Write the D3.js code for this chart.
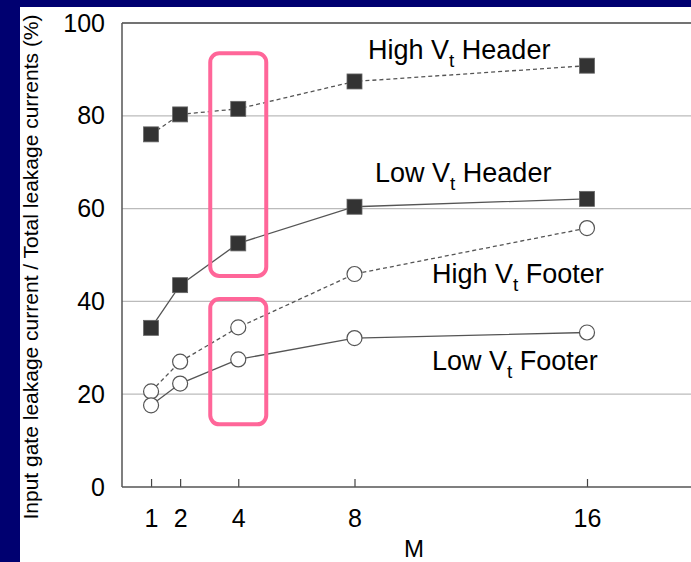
<!DOCTYPE html>
<html>
<head>
<meta charset="utf-8">
<script src="https://cdn.jsdelivr.net/npm/d3@7"></script>
<style>
  body { margin: 0; background: #000070; }
  svg { display: block; }
</style>
</head>
<body>
<div id="chart"></div>
<script>
// data
var mValues = [1, 2, 4, 8, 16];
var highVtHeader = [76, 80.3, 81.5, 87.4, 90.8];
var lowVtHeader = [34.3, 43.5, 52.5, 60.4, 62.1];
var highVtFooter = [20.6, 27, 34.4, 45.9, 55.8];
var lowVtFooter = [17.6, 22.3, 27.5, 32.1, 33.3];
var yTicks = [0, 20, 40, 60, 80, 100];
// highlighted region around M = 4: [x, yLow, yHigh]
var highlights = [[4, 45.5, 93.5], [4, 13.5, 40.5]];

const width = 691;
const height = 562;
const fontFam = "'Liberation Sans', Arial, Helvetica, sans-serif";

var svg = d3.select("#chart").append("svg")
	.attr("width", width)
	.attr("height", height);

// white slide panel
svg.append("rect")
	.attr("x", 20).attr("y", 7)
	.attr("width", width - 20).attr("height", height - 7)
	.attr("fill", "#fff");

var x = d3.scaleLinear().domain([0, 16]).range([122, 587]);
var y = d3.scaleLinear().domain([0, 100]).range([487, 23]);

// grid lines
svg.append("g").selectAll("line")
	.data(yTicks.filter(d => d > 0 && d < 100))
	.join("line")
	.attr("x1", x(0)).attr("x2", width)
	.attr("y1", d => y(d)).attr("y2", d => y(d))
	.attr("stroke", "#bbb").attr("stroke-width", 1.3);

// frame: top, left, bottom
svg.append("line")
	.attr("x1", x(0)).attr("x2", width)
	.attr("y1", y(100)).attr("y2", y(100))
	.attr("stroke", "#444").attr("stroke-width", 1.6);
svg.append("line")
	.attr("x1", x(0)).attr("x2", x(0))
	.attr("y1", y(100)).attr("y2", y(0))
	.attr("stroke", "#555").attr("stroke-width", 1.5);

var xAxis = svg.append("g")
	.attr("transform", `translate(0,${y(0)})`)
	.call(d3.axisBottom(x).tickValues(mValues).tickSizeInner(-8).tickSizeOuter(0).tickPadding(22));
xAxis.select(".domain").remove();
xAxis.append("line")
	.attr("x1", x(0)).attr("x2", width)
	.attr("stroke", "#555").attr("stroke-width", 1.5);
xAxis.selectAll(".tick line").attr("stroke", "#444").attr("stroke-width", 1.2);
xAxis.selectAll("text")
	.attr("fill", "#000")
	.style("font", `25px ${fontFam}`);

var yAxis = svg.append("g")
	.attr("transform", `translate(${x(0)},0)`)
	.call(d3.axisLeft(y).tickValues(yTicks).tickSize(0).tickPadding(17));
yAxis.select(".domain").remove();
yAxis.selectAll("text")
	.attr("fill", "#000")
	.style("font", `25px ${fontFam}`);

// axis titles
svg.append("text")
	.attr("transform", `translate(38,267) rotate(-90)`)
	.attr("text-anchor", "middle")
	.attr("fill", "#000")
	.style("font", `21px ${fontFam}`)
	.text("Input gate leakage current / Total leakage currents (%)");

svg.append("text")
	.attr("x", 414).attr("y", 557)
	.attr("text-anchor", "middle")
	.attr("fill", "#000")
	.style("font", `24px ${fontFam}`)
	.text("M");

// series
var series = [
	{ name: "High", part: "Header", values: highVtHeader, dashed: true, square: true, lx: 368, ly: 59 },
	{ name: "Low", part: "Header", values: lowVtHeader, dashed: false, square: true, lx: 375, ly: 182 },
	{ name: "High", part: "Footer", values: highVtFooter, dashed: true, square: false, lx: 432, ly: 283 },
	{ name: "Low", part: "Footer", values: lowVtFooter, dashed: false, square: false, lx: 432, ly: 370 }
];

var line = d3.line()
	.x((d, i) => x(mValues[i]))
	.y(d => y(d));

series.forEach(function(s) {
	var g = svg.append("g");
	g.append("path")
		.attr("d", line(s.values))
		.attr("fill", "none")
		.attr("stroke", "#555")
		.attr("stroke-width", 1.3)
		.attr("stroke-dasharray", s.dashed ? "4,3" : null);

	if (s.square) {
		g.selectAll("rect")
			.data(s.values)
			.join("rect")
			.attr("x", (d, i) => x(mValues[i]) - 7.5)
			.attr("y", d => y(d) - 7.5)
			.attr("width", 15).attr("height", 15)
			.attr("fill", "#333")
			.attr("stroke", "#666").attr("stroke-width", 0.8);
	} else {
		g.selectAll("circle")
			.data(s.values)
			.join("circle")
			.attr("cx", (d, i) => x(mValues[i]))
			.attr("cy", d => y(d))
			.attr("r", 7.5)
			.attr("fill", "#fff")
			.attr("stroke", "#555").attr("stroke-width", 1.2);
	}

	var label = svg.append("text")
		.attr("x", s.lx).attr("y", s.ly)
		.attr("fill", "#000")
		.style("font", `27px ${fontFam}`);
	label.append("tspan").text(s.name + " V");
	label.append("tspan").attr("dy", 8).style("font-size", "19px").text("t");
	label.append("tspan").attr("dy", -8).text(" " + s.part);
});

// pink highlight boxes
svg.append("g").selectAll("rect")
	.data(highlights)
	.join("rect")
	.attr("x", d => x(d[0]) - 28)
	.attr("y", d => y(d[2]))
	.attr("width", 56)
	.attr("height", d => y(d[1]) - y(d[2]))
	.attr("rx", 9)
	.attr("fill", "none")
	.attr("stroke", "#ff6699")
	.attr("stroke-width", 4);
</script>
</body>
</html>
